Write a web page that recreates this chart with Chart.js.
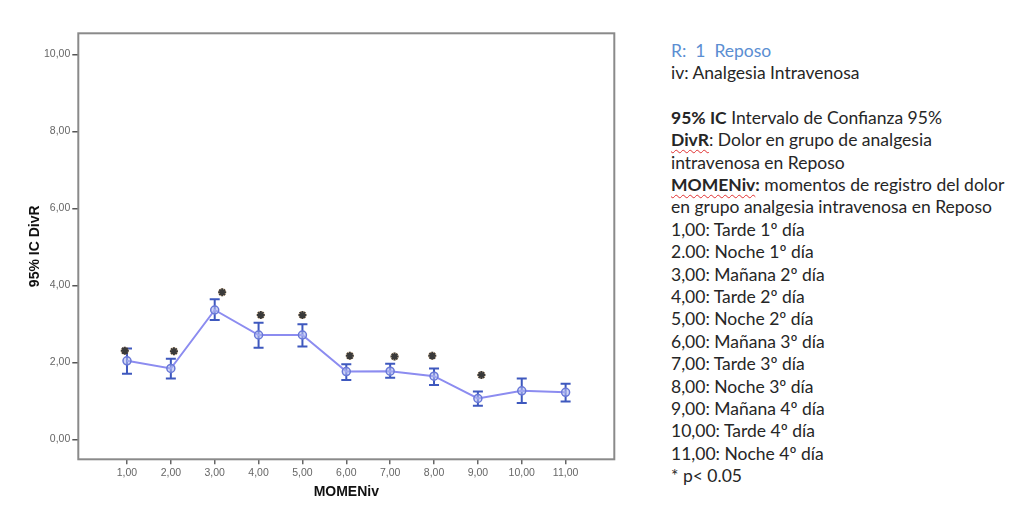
<!DOCTYPE html>
<html>
<head>
<meta charset="utf-8">
<script src="https://cdn.jsdelivr.net/npm/chart.js@4/dist/chart.umd.min.js"></script>
<style>
  html, body { margin: 0; padding: 0; background: #fff; }
  body { width: 1019px; height: 506px; position: relative; overflow: hidden; }
  #chartBox { position: absolute; left: 0; top: 0; width: 640px; height: 506px; }
  #notes { position: absolute; left: 671px; top: 39.5px; font-family: Lato, "Open Sans", sans-serif;
           font-size: 17.5px; line-height: 22.4px; color: #262626; white-space: nowrap; }
  #notes .blue { color: #5b8ed2; }
  #notes b { font-weight: bold; }
  #notes .sp { text-decoration: underline wavy #e03030; text-decoration-thickness: 1px; text-underline-offset: 3px; }
</style>
</head>
<body>
<div id="chartBox"><canvas id="c"></canvas></div>
<div id="notes">
  <div class="blue">R:&nbsp; 1&nbsp; Reposo</div>
  <div>iv: Analgesia Intravenosa</div>
  <div>&nbsp;</div>
  <div><b>95% IC</b> Intervalo de Confianza 95%</div>
  <div><b class="sp">DivR</b>: Dolor en grupo de analgesia</div>
  <div>intravenosa en Reposo</div>
  <div><b><span class="sp">MOMENiv</span>:</b> momentos de registro del dolor</div>
  <div>en grupo analgesia intravenosa en Reposo</div>
  <div>1,00: Tarde 1º día</div>
  <div>2.00: Noche 1º día</div>
  <div>3,00: Mañana 2º día</div>
  <div>4,00: Tarde 2º día</div>
  <div>5,00: Noche 2º día</div>
  <div>6,00: Mañana 3º día</div>
  <div>7,00: Tarde 3º día</div>
  <div>8,00: Noche 3º día</div>
  <div>9,00: Mañana 4º día</div>
  <div>10,00: Tarde 4º día</div>
  <div>11,00: Noche 4º día</div>
  <div>* p&lt; 0.05</div>
</div>
<script>
// ---- data ----
const moments   = [1, 2, 3, 4, 5, 6, 7, 8, 9, 10, 11];
const meanPain  = [2.04, 1.84, 3.36, 2.71, 2.71, 1.76, 1.77, 1.64, 1.06, 1.26, 1.22];
const ciUpper   = [2.36, 2.09, 3.64, 3.03, 2.99, 1.95, 1.96, 1.84, 1.24, 1.58, 1.44];
const ciLower   = [1.70, 1.58, 3.10, 2.38, 2.41, 1.54, 1.60, 1.41, 0.87, 0.94, 0.98];
// significance markers (*) as placed in the figure
const starX     = [0.95, 2.07, 3.17, 4.05, 5.00, 6.08, 7.10, 7.96, 9.08];
const starY     = [2.30, 2.29, 3.82, 3.23, 3.23, 2.17, 2.15, 2.17, 1.67];
const yTicks    = [0, 2, 4, 6, 8, 10];
const xTicks    = moments;

const fmt = v => Number(v).toFixed(2).replace('.', ',');

const errorBars = {
  id: 'errorBars',
  beforeDatasetsDraw(chart) {
    const {ctx, scales: {x, y}} = chart;
    ctx.save();
    ctx.strokeStyle = 'rgb(62,88,190)';
    ctx.lineWidth = 2;
    const cap = 5;
    for (let i = 0; i < moments.length; i++) {
      const px = x.getPixelForValue(moments[i]);
      const pu = y.getPixelForValue(ciUpper[i]);
      const pl = y.getPixelForValue(ciLower[i]);
      ctx.beginPath();
      ctx.moveTo(px, pu); ctx.lineTo(px, pl);
      ctx.moveTo(px - cap, pu); ctx.lineTo(px + cap, pu);
      ctx.moveTo(px - cap, pl); ctx.lineTo(px + cap, pl);
      ctx.stroke();
    }
    ctx.restore();
  }
};

const frame = {
  id: 'frame',
  afterDraw(chart) {
    const {ctx, chartArea: a} = chart;
    ctx.save();
    ctx.strokeStyle = '#8a8a8a';
    ctx.lineWidth = 2;
    ctx.strokeRect(a.left, a.top, a.right - a.left, a.bottom - a.top);
    ctx.restore();
  }
};

new Chart(document.getElementById('c'), {
  type: 'scatter',
  data: {
    datasets: [
      {
        data: moments.map((m, i) => ({x: m, y: meanPain[i]})),
        showLine: true,
        borderColor: 'rgb(140,140,240)',
        borderWidth: 2,
        pointStyle: 'circle',
        pointRadius: 4,
        pointBorderWidth: 1.5,
        pointBorderColor: 'rgb(105,120,215)',
        pointBackgroundColor: 'rgba(175,185,240,0.6)',
        order: 1
      },
      {
        data: starX.map((sx, i) => ({x: sx, y: starY[i]})),
        showLine: false,
        pointStyle: 'star',
        pointRadius: 4,
        pointBorderWidth: 2,
        pointBorderColor: '#3a3a3a',
        pointBackgroundColor: '#3a3a3a',
        order: 2
      },
      {
        data: starX.map((sx, i) => ({x: sx, y: starY[i]})),
        showLine: false,
        pointStyle: 'circle',
        pointRadius: 4,
        pointBorderWidth: 0,
        pointBackgroundColor: 'rgba(225,160,80,0.45)',
        order: 3
      }
    ]
  },
  options: {
    responsive: true,
    maintainAspectRatio: false,
    animation: false,
    events: [],
    layout: { padding: { top: 33.3, right: 25.7, left: 0, bottom: 0 } },
    plugins: { legend: { display: false }, tooltip: { enabled: false } },
    scales: {
      x: {
        type: 'linear',
        min: -0.11, max: 12.11,
        afterBuildTicks: s => { s.ticks = xTicks.map(v => ({value: v})); },
        afterFit: s => { s.height = 46.7; },
        border: { display: false },
        grid: { display: true, drawOnChartArea: false, drawTicks: true, tickLength: 5, color: '#666', lineWidth: 1.5 },
        ticks: { callback: v => fmt(v), color: '#666', font: { family: 'Liberation Sans, Arial', size: 10.5 }, padding: 3, maxRotation: 0, autoSkip: false },
        title: { display: true, text: 'MOMENiv', color: '#111', font: { family: 'Liberation Sans, Arial', size: 14, weight: 'bold' }, padding: { top: 0, bottom: 5 } }
      },
      y: {
        type: 'linear',
        min: -0.52, max: 10.55,
        afterBuildTicks: s => { s.ticks = yTicks.map(v => ({value: v})); },
        afterFit: s => { s.width = 78.3; },
        border: { display: false },
        grid: { display: true, drawOnChartArea: false, drawTicks: true, tickLength: 6, color: '#555', lineWidth: 1.5 },
        ticks: { callback: v => fmt(v), color: '#666', font: { family: 'Liberation Sans, Arial', size: 10.5 }, padding: 2 },
        title: { display: true, text: '95% IC DivR', color: '#111', font: { family: 'Liberation Sans, Arial', size: 14, weight: 'bold' }, padding: { top: 26.5, bottom: 0 } }
      }
    }
  },
  plugins: [errorBars, frame]
});
</script>
</body>
</html>
